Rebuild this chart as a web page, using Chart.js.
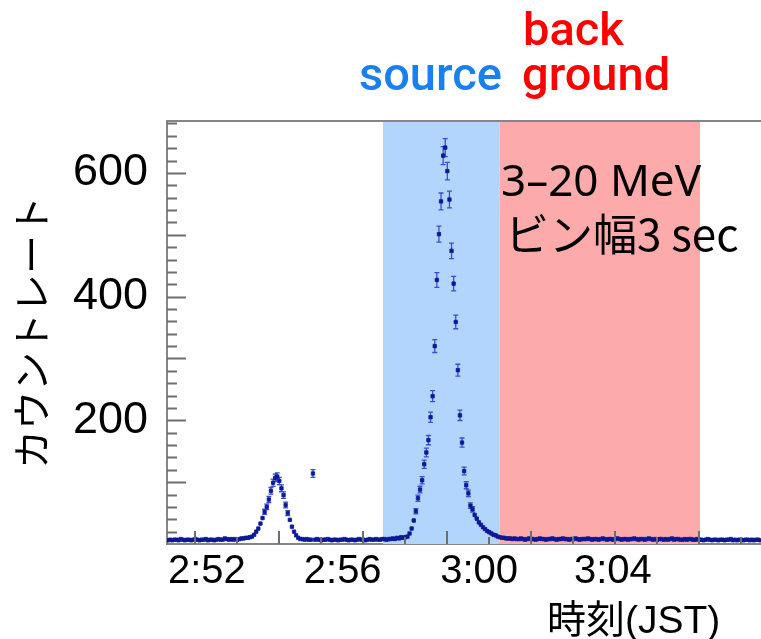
<!DOCTYPE html>
<html>
<head>
<meta charset="utf-8">
<script src="https://cdn.jsdelivr.net/npm/chart.js@4.4.1/dist/chart.umd.min.js"></script>
<style>
  body { margin: 0; background: #ffffff; }
  canvas { display: block; }
</style>
</head>
<body>
<canvas id="lightcurve" width="761" height="639"></canvas>
<script>
// 3 s bins, time in seconds from the left edge of the axis
const binWidth = 3;
const axisEnd = 848.6;

// count rate per bin (counts/s)
const countRate = [
  6,7,6,7,7,6,8,7,6,7, 7,6,7,8,7,6,7,7,8,6,
  7,7,6,7,8,7,7,9,8,7, 8,7,8,7,8,9,9,10,10,11,
  12,15,20,25,33,42,52,60,72,86,99,107,109,102,90,79,63,50,39,28,20,14,10,8,
  8,7,8,7,7,
  114,
  7,8,7,6,7,7,8,7,6,7, 7,6,7,7,8,7,6,7,7,6,
  7,8,7,7,6,7,8,7,7,8, 7,7,8,8,7,8,8,9,
  8,10,9,11,10,11,
  12,17,25,38,53,74,88,103,129,148,168,205,239,320,427,501,554,628,641,
  603,557,474,421,359,281,208,164,118,95,82,62,56,47,41,35,31,27,24,21,19,17,15,14,12,11,10,10,9,9,
  9,8,9,8,8,9,8,7,8,9, 8,8,7,8,9,8,8,7,8,8,
  9,8,7,8,8,9,8,8,7,8, 8,9,8,7,8,8,8,9,8,7,
  8,8,7,8,9,8,7,8,8,7, 8,9,8,7,8,8,7,8,8,9,
  8,7,8,8,7,8,9,8,7,8, 7,8,8,7,8,7,8,9,7,8,
  8,7,7,8,7,8,8,7,7,8, 7,7,6,7,8,7,6,7,7,6,
  7,7,6,7,7,8,6,7,6,7, 7,6,7,7,6,7,6,7,7,6
];

// time axis labels and where they sit on the axis
const tickLabels = ['2:52', '2:56', '3:00', '3:04'];
const tickAt = [57, 251, 446, 637];
const yLabels = [200, 400, 600];

// selection windows (s)
const sourceWindow = [308.5, 475];
const bgWindow = [475, 761.5];

let points = countRate.map((v, i) => ({ x: binWidth * (i + 0.5), y: v }));

function rateError(v) {
  // poisson error of a rate in a 3 s bin
  return Math.sqrt(v * binWidth) / binWidth;
}

const windowsPlugin = {
  id: 'windows',
  beforeDatasetsDraw(chart) {
    let ctx = chart.ctx, x = chart.scales.x, area = chart.chartArea;
    ctx.save();
    ctx.fillStyle = '#b2d5fd';
    let x0 = x.getPixelForValue(sourceWindow[0]), x1 = x.getPixelForValue(sourceWindow[1]);
    ctx.fillRect(x0, area.top, x1 - x0, area.bottom - area.top);
    ctx.fillStyle = '#fdaaab';
    x0 = x.getPixelForValue(bgWindow[0]); x1 = x.getPixelForValue(bgWindow[1]);
    ctx.fillRect(x0, area.top, x1 - x0, area.bottom - area.top);
    ctx.restore();
  }
};

const errorBarPlugin = {
  id: 'errorBars',
  beforeDatasetsDraw(chart) {
    let ctx = chart.ctx, x = chart.scales.x, y = chart.scales.y;
    ctx.save();
    ctx.strokeStyle = '#3a4fd0';
    ctx.lineWidth = 1.3;
    ctx.beginPath();
    points.forEach((p) => {
      let e = rateError(p.y);
      let px = x.getPixelForValue(p.x);
      let lo = y.getPixelForValue(p.y - e), hi = y.getPixelForValue(p.y + e);
      let py = y.getPixelForValue(p.y);
      ctx.moveTo(px, lo); ctx.lineTo(px, hi);
      ctx.moveTo(x.getPixelForValue(p.x - binWidth / 2), py);
      ctx.lineTo(x.getPixelForValue(p.x + binWidth / 2), py);
      if (lo - hi > 5) {
        ctx.moveTo(px - 2.5, lo); ctx.lineTo(px + 2.5, lo);
        ctx.moveTo(px - 2.5, hi); ctx.lineTo(px + 2.5, hi);
      }
    });
    ctx.stroke();
    ctx.restore();
  }
};

// inward tick marks and top frame line
const frameTicksPlugin = {
  id: 'frameTicks',
  afterDatasetsDraw(chart) {
    let ctx = chart.ctx, x = chart.scales.x, y = chart.scales.y, area = chart.chartArea;
    ctx.save();
    ctx.strokeStyle = '#6e6e6e';
    ctx.lineWidth = 2;
    ctx.beginPath();
    for (let v = 20; v < y.max; v += 20) {
      let py = Math.round(y.getPixelForValue(v)) + 0.5;
      let len = (v % 100 === 0) ? 19 : 10;
      ctx.moveTo(area.left, py); ctx.lineTo(area.left + len, py);
    }
    for (let v = 40, k = 0; v < x.max; v += 60, k++) {
      let px = Math.round(x.getPixelForValue(v));
      let len = (k % 2 === 0) ? 13 : 7;
      ctx.moveTo(px, area.bottom); ctx.lineTo(px, area.bottom - len);
    }
    ctx.stroke();
    ctx.strokeStyle = '#858585';
    ctx.beginPath();
    ctx.moveTo(area.left - 1, area.top); ctx.lineTo(area.right, area.top);
    ctx.stroke();
    ctx.restore();
  }
};

const labelsPlugin = {
  id: 'overlayText',
  afterDraw(chart) {
    let ctx = chart.ctx;
    ctx.save();
    ctx.textBaseline = 'alphabetic';
    ctx.textAlign = 'left';
    ctx.font = '500 47px Roboto';
    ctx.fillStyle = '#ff0000';
    ctx.fillText('back', 523, 45);
    ctx.fillText('ground', 522, 90);
    ctx.fillStyle = '#1a80f2';
    ctx.fillText('source', 359, 90);
    ctx.fillStyle = '#000000';
    ctx.font = '44px "Noto Sans", "Noto Sans CJK JP"';
    ctx.fillText('3\u201320 MeV', 501, 196);
    ctx.font = '44px "Noto Sans CJK JP"';
    ctx.fillText('ビン幅3 sec', 505, 251);
    ctx.font = '39px "Liberation Sans", "Noto Sans CJK JP"';
    ctx.fillText('時刻(JST)', 547, 633);
    ctx.restore();
  }
};

function makeChart(canvas) {
  let chartConfig = {
    type: 'scatter',
    data: {
      datasets: [{
        data: points,
        pointStyle: 'rect',
        pointRadius: 2.4,
        pointBorderWidth: 0.8,
        backgroundColor: '#0c1896',
        borderColor: '#0c1896',
        showLine: false,
      }],
    },
    options: {
      responsive: false,
      devicePixelRatio: 1,
      animation: false,
      layout: { autoPadding: false, padding: { top: 121, right: 0, left: 0, bottom: 0 } },
      scales: {
        x: {
          type: 'linear',
          min: 0,
          max: axisEnd,
          grid: { display: false, drawTicks: false },
          border: { display: true, color: '#858585', width: 2 },
          afterBuildTicks: (scale) => { scale.ticks = tickAt.map((v) => ({ value: v })); },
          afterFit: (scale) => { scale.height = 95; },
          ticks: {
            autoSkip: false,
            maxRotation: 0,
            padding: 4,
            color: '#000000',
            font: { family: 'Liberation Sans', size: 40 },
            callback: (value, index) => tickLabels[index],
          },
        },
        y: {
          min: 0,
          max: 684,
          grid: { display: false, drawTicks: false },
          border: { display: true, color: '#858585', width: 2 },
          afterBuildTicks: (scale) => { scale.ticks = yLabels.map((v) => ({ value: v })); },
          afterFit: (scale) => { scale.width = 167; },
          ticks: {
            padding: 19,
            color: '#000000',
            font: { family: 'Liberation Sans', size: 45 },
          },
          title: {
            display: true,
            text: 'カウントレート',
            color: '#000000',
            padding: { top: 8 },
            font: { family: 'Noto Sans CJK JP', size: 39 },
          },
        },
      },
      plugins: {
        legend: { display: false },
        tooltip: { enabled: false },
      },
    },
    plugins: [windowsPlugin, errorBarPlugin, frameTicksPlugin, labelsPlugin],
  };
  return new Chart(canvas, chartConfig);
}

const curveChart = makeChart(document.getElementById('lightcurve'));
</script>
</body>
</html>
